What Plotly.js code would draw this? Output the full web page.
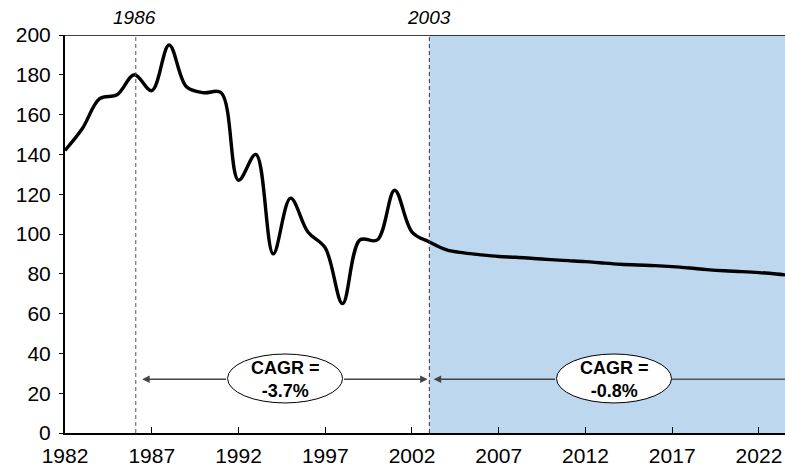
<!DOCTYPE html>
<html>
<head>
<meta charset="utf-8">
<script src="https://cdn.plot.ly/plotly-3.0.1.min.js"></script>
<style>html,body{margin:0;padding:0;background:#fff;}#chart{width:785px;height:469px;}</style>
</head>
<body>
<div id="chart"></div>
<script>
const years = [1982,1983,1984,1985,1986,1987,1988,1989,1990,1991,1992,1993,1994,1995,1996,1997,1998,1999,2000,2001,2002,2003,2004,2005,2006,2007,2008,2009,2010,2011,2012,2013,2014,2015,2016,2017,2018,2019,2020,2021,2022,2023,2024];
const values = [142,153,168,170,180,172,195,174,171,171,127,140,90,118,101,93,65,97,97,122,101,96,92,90.5,89.5,88.7,88.3,87.7,87.1,86.6,86.1,85.4,84.8,84.4,84.1,83.6,82.9,82.1,81.5,81.1,80.6,79.9,79.0];
const markerYears = [1986, 2003];
const tickYears = [1982,1987,1992,1997,2002,2007,2012,2017,2022];
const cagrLabels = ["CAGR =<br>-3.7%", "CAGR =<br>-0.8%"];

const FONT = "Arial, 'Liberation Sans', sans-serif";
const xEnd = 2023.5;
const arrowY = 27;
const ell = [
  {x0: 1991.37, x1: 1998.0},
  {x0: 2010.33, x1: 2016.96}
];

const shapes = [
  {type:'rect', xref:'x', yref:'y', x0: markerYears[1], x1: xEnd, y0:0, y1:200, fillcolor:'#BDD7EE', line:{width:0}, layer:'below'},
  {type:'line', xref:'x', yref:'y', x0: markerYears[0] + 0.08, x1: markerYears[0] + 0.08, y0:0, y1:199, line:{color:'#555', width:1, dash:'4px,3px'}},
  {type:'line', xref:'x', yref:'y', x0: markerYears[1], x1: markerYears[1], y0:0, y1:199, line:{color:'#333', width:1, dash:'4px,3px'}},
  {type:'line', xref:'paper', yref:'y', x0:0, x1:1, y0:200, y1:200, line:{color:'#000', width:1.5}},
  {type:'line', xref:'x', yref:'y', x0: ell[1].x1, x1: xEnd, y0: arrowY, y1: arrowY, line:{color:'#555', width:1.5}}
];
ell.forEach(e => shapes.push({type:'circle', xref:'x', yref:'y', x0:e.x0, x1:e.x1, y0:15.1, y1:39.7, fillcolor:'#fff', line:{color:'#000', width:1}, layer:'above'}));

const arrowBase = {xref:'x', yref:'y', axref:'x', ayref:'y', text:'', showarrow:true, arrowhead:2, arrowsize:1, arrowwidth:1.5, arrowcolor:'#444', y: arrowY, ay: arrowY, standoff:0, startstandoff:0};
const annotations = [
  Object.assign({}, arrowBase, {x: 1986.45, ax: ell[0].x0}),
  Object.assign({}, arrowBase, {x: 2002.9, ax: ell[0].x1}),
  Object.assign({}, arrowBase, {x: 2003.25, ax: ell[1].x0}),
];
markerYears.forEach(yr => annotations.push({xref:'x', yref:'paper', x: yr, y: 1, yanchor:'bottom', yshift: 5, showarrow:false, text: '<i>' + yr + '</i>', font:{family:FONT, size:19, color:'#000'}}));
cagrLabels.forEach((t, i) => annotations.push({xref:'x', yref:'y', x: (ell[i].x0 + ell[i].x1)/2, y: arrowY, showarrow:false, text: '<b>' + t + '</b>', font:{family:FONT, size:18, color:'#000'}}));

const trace = {x: years, y: values, type:'scatter', mode:'lines', line:{color:'#000', width:3.4, shape:'spline', smoothing:1}, hoverinfo:'skip'};

const layout = {
  width:785, height:469,
  margin:{l:65, r:0, t:35, b:36},
  paper_bgcolor:'#fff', plot_bgcolor:'rgba(0,0,0,0)',
  showlegend:false,
  font:{family:FONT, color:'#000'},
  xaxis:{range:[1982, xEnd], tickvals: tickYears, ticktext: tickYears.map(String), ticks:'inside', ticklen:6, tickwidth:1, tickcolor:'#000', showline:true, linecolor:'#000', linewidth:2, showgrid:false, zeroline:false, ticklabelstandoff:3, tickfont:{family:FONT, size:21, color:'#000'}},
  yaxis:{range:[0,200], tickvals:[0,20,40,60,80,100,120,140,160,180,200], ticks:'outside', ticklen:4, tickwidth:1, tickcolor:'#000', showline:true, linecolor:'#000', linewidth:2, showgrid:false, zeroline:false, ticklabelstandoff:4, tickfont:{family:FONT, size:21, color:'#000'}},
  shapes: shapes,
  annotations: annotations
};

Plotly.newPlot('chart', [trace], layout, {displayModeBar:false, staticPlot:true});
</script>
</body>
</html>
